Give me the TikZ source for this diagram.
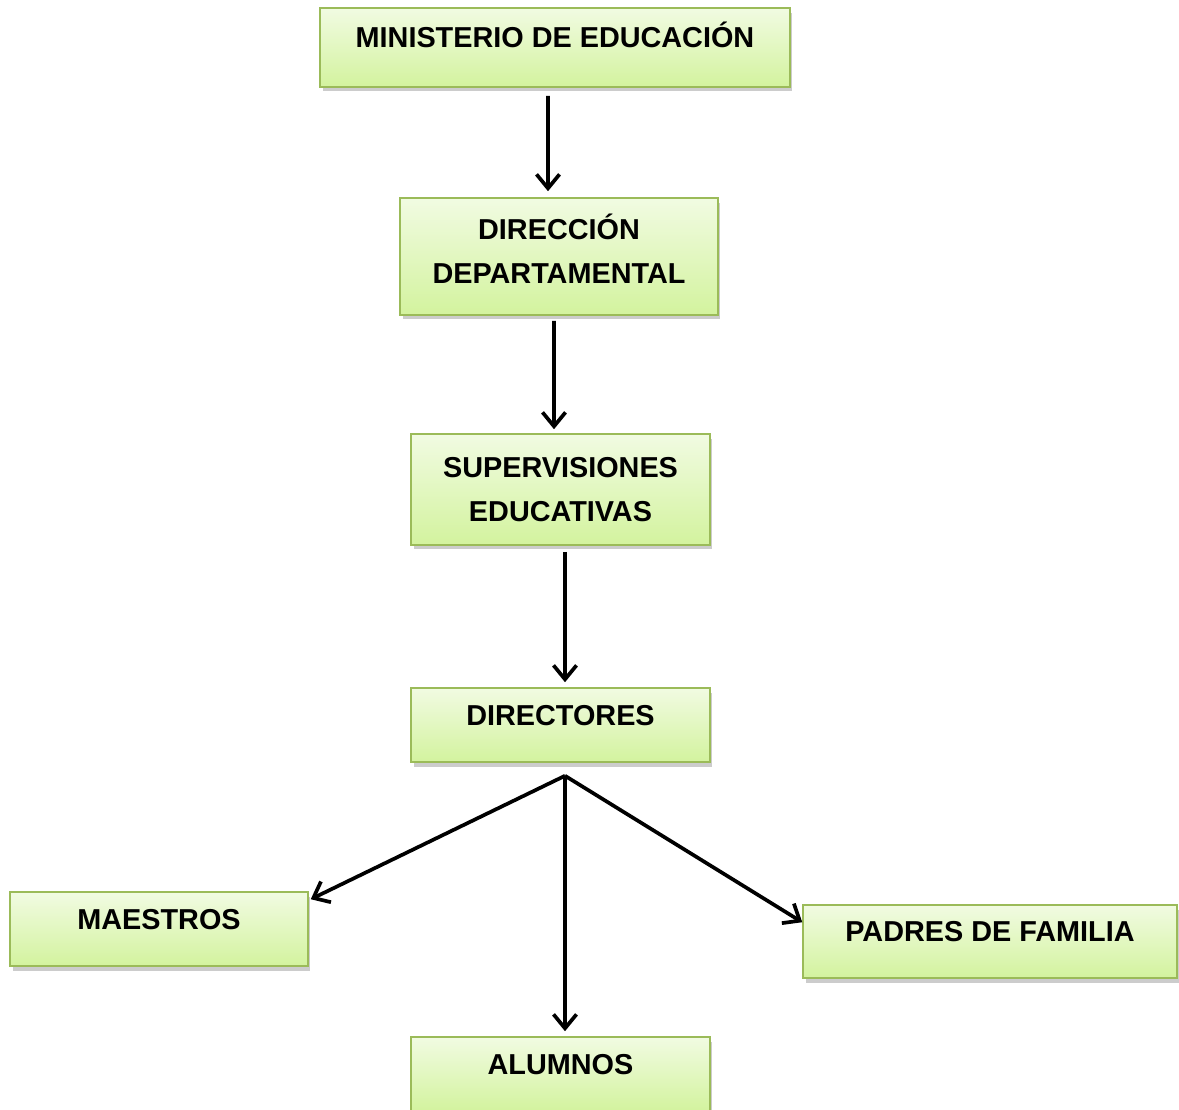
\documentclass[tikz,border=0pt]{standalone}
\usepackage{fontspec}
\setmainfont{Liberation Sans}
\usetikzlibrary{arrows.meta,shadows}
\definecolor{boxtop}{HTML}{F1FBE2}
\definecolor{boxbot}{HTML}{D3F39E}
\definecolor{boxline}{HTML}{9BBB59}
\begin{document}
\begin{tikzpicture}[x=0.02cm,y=-0.02cm,
  box/.style={draw=boxline,line width=0.9pt,top color=boxtop,bottom color=boxbot,
    drop shadow={shadow xshift=0.05cm,shadow yshift=-0.09cm,opacity=0.4},
    font=\bfseries\fontsize{16.4pt}{25pt}\selectfont,align=center,inner sep=0pt,
    minimum width=5.98cm},
  onebox/.style={box,text height=0.74cm,text depth=0.74cm},
  twobox/.style={box},
  arr/.style={-{Straight Barb[length=2.8mm,width=4.6mm]},line width=2.1pt}]
  \clip (0,0) rectangle (1179,1109);
  \node[onebox,minimum width=9.4cm,text height=0.79cm,text depth=0.79cm] (min) at (555,47.5) {MINISTERIO DE EDUCACIÓN};
  \node[twobox,minimum width=6.36cm,minimum height=2.34cm,text depth=0.3cm] (dir) at (559,256.5) {DIRECCIÓN\\DEPARTAMENTAL};
  \node[twobox,minimum height=2.22cm] (sup) at (560.5,489.5) {SUPERVISIONES\\EDUCATIVAS};
  \node[onebox] (dirs) at (560.5,725) {DIRECTORES};
  \node[onebox,minimum width=5.96cm] (mae) at (159,929) {MAESTROS};
  \node[onebox,minimum width=7.48cm,text height=0.73cm,text depth=0.73cm] (pad) at (990,941.5) {PADRES DE FAMILIA};
  \node[onebox] (alu) at (560.5,1074) {ALUMNOS};
  \coordinate (hub) at ([xshift=0.09cm,yshift=-0.26cm]dirs.south);
  \draw[arr,shorten <=0.16cm,shorten >=0.12cm] ([xshift=-0.14cm]min.south) -- ([xshift=-0.22cm]dir.north);
  \draw[arr,shorten <=0.1cm,shorten >=0.08cm] ([xshift=-0.1cm]dir.south) -- ([xshift=-0.13cm]sup.north);
  \draw[arr,shorten <=0.12cm,shorten >=0.1cm] ([xshift=0.09cm]sup.south) -- ([xshift=0.09cm]dirs.north);
  \draw[arr] (hub) -- ([xshift=0.04cm,yshift=-0.16cm]mae.north east);
  \draw[arr,shorten >=0.1cm] (hub) -- ([xshift=0.09cm]alu.north);
  \draw[arr] (hub) -- ([yshift=-0.36cm]pad.north west);
\end{tikzpicture}
\end{document}
